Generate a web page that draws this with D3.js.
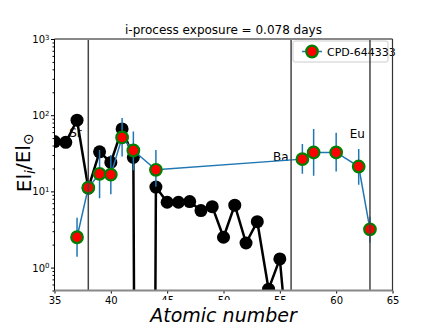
<!DOCTYPE html>
<html>
<head>
<meta charset="utf-8">
<script src="https://cdn.jsdelivr.net/npm/d3@7"></script>
<style>
  body { margin: 0; background: #fff; }
  text { font-family: "DejaVu Sans", sans-serif; }
</style>
</head>
<body>
<div id="chart"></div>
<script>
// model abundances (black), Z = 35..56
const modelZ = d3.range(35, 57)
const modelVals = [45, 44, 86, 11, 33, 24, 66, 28, 0, 11.4, 7.2, 7.2, 7.35, 5.6, 6.3, 2.5, 6.6, 2.1, 4.0, 0.52, 1.3, 0.03]

// observed star (CPD-644333)
const obsZ = [37, 38, 39, 40, 41, 42, 44, 57, 58, 60, 62, 63]
const obsVals = [2.5, 11.2, 17, 16.6, 51, 34.4, 19.2, 26.5, 32.4, 32.4, 21.2, 3.18]
const obsLo = [1.39, 11.2, 8.1, 9.2, 28.7, 19, 11.5, 17, 16, 18.2, 12.2, 2.12]
const obsHi = [4.5, 11.2, 35, 30, 92, 61, 35, 41.8, 66, 59, 36, 4.66]

const markLines = [38, 56, 63]
const elemLabels = [
    { name: "Sr", z: 36.3, v: 52 },
    { name: "Ba", z: 54.4, v: 25 },
    { name: "Eu", z: 61.2, v: 50 }
]
const xTicks = [35, 40, 45, 50, 55, 60, 65]
const yTicks = [1, 10, 100, 1000]

const width = 436, height = 327
const pLeft = 54.5, pRight = 392.5, pTop = 39, pBottom = 290.5

const x = d3.scaleLinear().domain([35, 65]).range([pLeft, pRight])
const y = d3.scaleLog().domain([0.5, 1000]).range([pBottom, pTop])
const yc = v => y(Math.max(v, 1e-30))

const svg = d3.select("#chart").append("svg")
    .attr("width", width)
    .attr("height", height)

svg.append("clipPath").attr("id", "plot")
    .append("rect")
    .attr("x", pLeft).attr("y", pTop)
    .attr("width", pRight - pLeft).attr("height", pBottom - pTop)

const plot = svg.append("g").attr("clip-path", "url(#plot)")

// element labels
plot.selectAll(".elem")
    .data(elemLabels)
    .join("text")
    .attr("x", d => x(d.z))
    .attr("y", d => y(d.v))
    .attr("font-size", 12)
    .text(d => d.name)

// model line
const modelData = modelZ.map((z, i) => ({ z, v: modelVals[i] }))
plot.append("path")
    .datum(modelData)
    .attr("fill", "none")
    .attr("stroke", "#000")
    .attr("stroke-width", 2.5)
    .attr("d", d3.line().x(d => x(d.z)).y(d => yc(d.v)))

plot.selectAll(".model")
    .data(modelData.filter(d => d.v > 0))
    .join("circle")
    .attr("cx", d => x(d.z))
    .attr("cy", d => yc(d.v))
    .attr("r", 6.5)
    .attr("fill", "#000")

// observed
const obsData = obsZ.map((z, i) => ({ z, v: obsVals[i], lo: obsLo[i], hi: obsHi[i] }))
const blue = "#1f77b4"

plot.selectAll(".err")
    .data(obsData)
    .join("line")
    .attr("x1", d => x(d.z)).attr("x2", d => x(d.z))
    .attr("y1", d => y(d.lo)).attr("y2", d => y(d.hi))
    .attr("stroke", blue)
    .attr("stroke-width", 1.5)

plot.append("path")
    .datum(obsData)
    .attr("fill", "none")
    .attr("stroke", blue)
    .attr("stroke-width", 1.5)
    .attr("d", d3.line().x(d => x(d.z)).y(d => y(d.v)))

plot.selectAll(".obs")
    .data(obsData)
    .join("circle")
    .attr("cx", d => x(d.z))
    .attr("cy", d => y(d.v))
    .attr("r", 5.8)
    .attr("fill", "#ff0000")
    .attr("stroke", "#008000")
    .attr("stroke-width", 2.2)

// legend
const lg = svg.append("g").attr("transform", "translate(293,41)")
lg.append("rect")
    .attr("width", 95).attr("height", 21).attr("rx", 2)
    .attr("fill", "#fff").attr("fill-opacity", 0.6)
    .attr("stroke", "#ccc")
lg.append("line")
    .attr("x1", 9).attr("x2", 29).attr("y1", 10.5).attr("y2", 10.5)
    .attr("stroke", blue).attr("stroke-width", 1.5)
lg.append("circle")
    .attr("cx", 19).attr("cy", 10.5).attr("r", 5.8)
    .attr("fill", "#ff0000").attr("stroke", "#008000").attr("stroke-width", 2.2)
lg.append("text")
    .attr("x", 34).attr("y", 14.5)
    .attr("font-size", 11)
    .text("CPD-644333")

// vertical marker lines
svg.selectAll(".vline")
    .data(markLines)
    .join("line")
    .attr("x1", d => x(d)).attr("x2", d => x(d))
    .attr("y1", pTop).attr("y2", pBottom)
    .attr("stroke", "#444")
    .attr("stroke-width", 1.5)

// axes
const xAxis = svg.append("g")
    .attr("transform", `translate(0,${pBottom})`)
    .call(d3.axisBottom(x).tickValues(xTicks).tickSize(3).tickPadding(3.5))
xAxis.select(".domain").remove()
xAxis.selectAll("text").attr("font-size", 10).attr("font-family", "DejaVu Sans")

const minor = []
for (let e = -1; e < 3; e++) {
    for (let m = 2; m <= 9; m++) {
        const v = m * Math.pow(10, e)
        if (v >= 0.5 && v < 1000) minor.push(v)
    }
}
const yAxis = svg.append("g")
    .attr("transform", `translate(${pLeft},0)`)
    .call(d3.axisLeft(y).tickValues(yTicks).tickSize(3.5).tickPadding(3).tickFormat(""))
yAxis.select(".domain").remove()
yAxis.selectAll(".tick text").remove()
yAxis.selectAll(".tick").append("text")
    .attr("x", -5).attr("dy", "0.35em")
    .attr("text-anchor", "end")
    .attr("fill", "#000")
    .attr("font-size", 10)
    .each(function (d) {
        const t = d3.select(this)
        t.append("tspan").text("10")
        t.append("tspan").attr("dy", "-0.45em").attr("font-size", 7).text(Math.round(Math.log10(d)))
    })
svg.append("g")
    .attr("transform", `translate(${pLeft},0)`)
    .call(d3.axisLeft(y).tickValues(minor).tickSize(2).tickFormat(""))
    .select(".domain").remove()

// spines
svg.append("line").attr("x1", pLeft).attr("x2", pRight).attr("y1", pTop).attr("y2", pTop)
    .attr("stroke", "#888").attr("stroke-width", 2)
svg.append("line").attr("x1", pLeft).attr("x2", pRight).attr("y1", pBottom).attr("y2", pBottom)
    .attr("stroke", "#888").attr("stroke-width", 2)
svg.append("line").attr("x1", pLeft).attr("x2", pLeft).attr("y1", pTop).attr("y2", pBottom)
    .attr("stroke", "#000").attr("stroke-width", 1)
svg.append("line").attr("x1", pRight).attr("x2", pRight).attr("y1", pTop).attr("y2", pBottom)
    .attr("stroke", "#333").attr("stroke-width", 1.2)

// title and labels
svg.append("text")
    .attr("x", (pLeft + pRight) / 2).attr("y", 34)
    .attr("text-anchor", "middle")
    .attr("font-size", 12)
    .text("i-process exposure = 0.078 days")

// x label sits on a white box that hides the lower part of the middle tick labels
svg.append("rect")
    .attr("x", 148).attr("y", 300)
    .attr("width", 152).attr("height", 27)
    .attr("fill", "#fff")
svg.append("text")
    .attr("x", (pLeft + pRight) / 2).attr("y", 322)
    .attr("text-anchor", "middle")
    .attr("font-size", 19)
    .attr("font-style", "italic")
    .text("Atomic number")

const yl = svg.append("text")
    .attr("transform", `translate(31,${(pTop + pBottom) / 2 - 2}) rotate(-90)`)
    .attr("text-anchor", "middle")
    .attr("font-size", 20)
yl.append("tspan").text("El")
yl.append("tspan").attr("font-size", 14).attr("font-style", "italic").attr("dy", "0.25em").text("i")
yl.append("tspan").attr("dy", "-0.25em").text("/El")
yl.append("tspan").attr("font-size", 14).attr("dy", "0.25em").text("⊙")
</script>
</body>
</html>
